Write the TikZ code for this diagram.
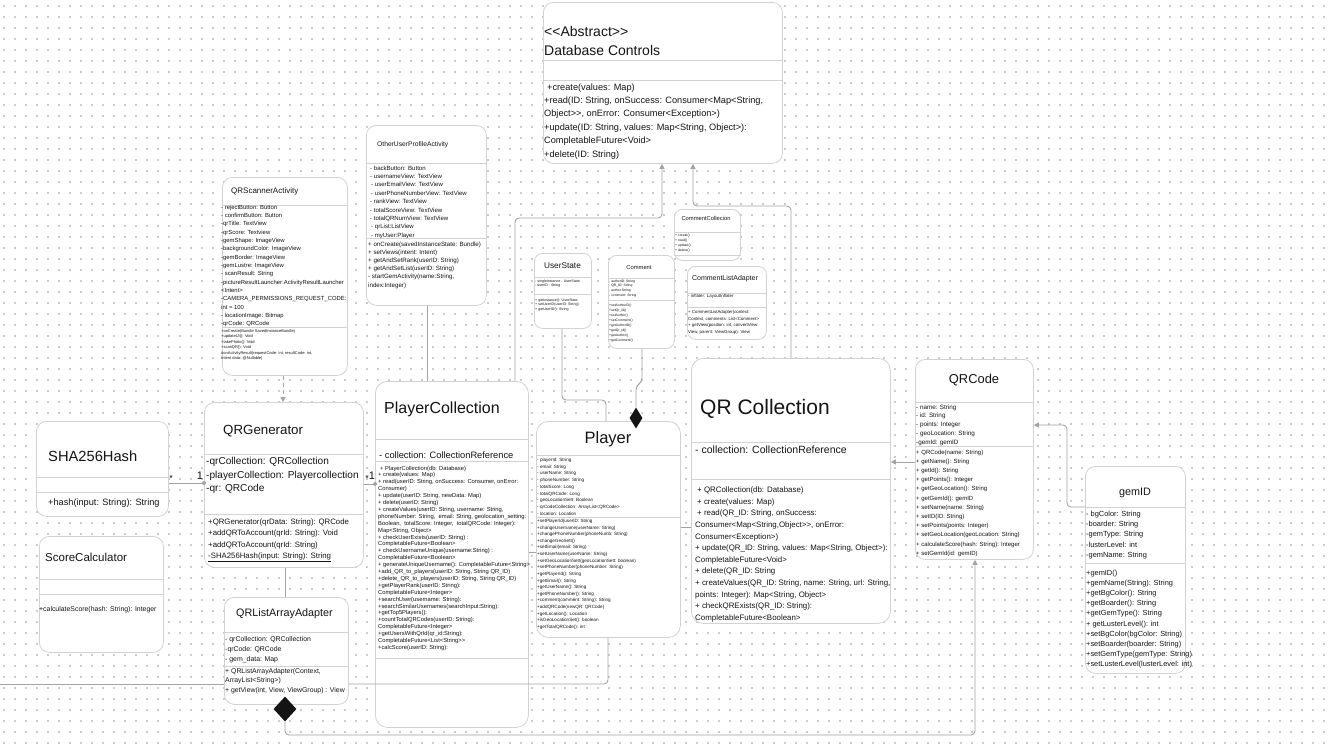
\documentclass[tikz,border=0pt]{standalone}
\usepackage{fontspec}
\setmainfont{Liberation Sans}[Ligatures=TeXOff]
\usetikzlibrary{arrows.meta,shapes.geometric}

\definecolor{boxline}{HTML}{D2D2D2}
\definecolor{connline}{HTML}{A3A3A3}
\definecolor{inkcol}{HTML}{141414}
\definecolor{gridcol}{HTML}{CCCCCC}

\newcommand{\umlfont}[2]{\fontsize{#1}{#2}\selectfont}
% regels met \\, basislijn op de eerste regel
\newcommand{\umlblock}[1]{\vtop{\let\\\cr\halign{##\hfil\cr#1\crcr}}}

\tikzset{
  classbox/.style={draw=boxline, fill=white, line width=0.8pt, rounded corners=#1, anchor=north west, inner sep=0pt},
  classbox/.default=10pt,
  sepline/.style={draw=boxline, line width=0.7pt},
  umltxt/.style={anchor=base west, inner sep=0pt, text=inkcol},
  umltitle/.style={anchor=base, inner sep=0pt, text=inkcol},
  conn/.style={draw=connline, line width=0.9pt, rounded corners=4pt},
  inherit/.style={conn, -{Triangle[width=5pt,length=5pt]}},
  compdia/.style={diamond, fill=inkcol, inner sep=0pt},
  multlbl/.style={inner sep=0pt, text=inkcol},
  griddot/.style={fill=gridcol},
}

\begin{document}
\begin{tikzpicture}[x=1pt,y=-1pt]
\useasboundingbox (0,0) rectangle (1332,744);
\fill[white] (0,0) rectangle (1332,744);

% Puntraster
\foreach \gy in {6,17,...,743}
  \foreach \gx in {4,15,...,1332}
    \fill[griddot] (\gx-0.65,\gy-0.65) rectangle (\gx+0.65,\gy+0.65);

% Database Controls
\node[classbox, minimum width=239pt, minimum height=161pt] (dbctrl) at (543,2) {};
\draw[sepline] (dbctrl.west |- 0,60) -- (dbctrl.east |- 0,60);
\draw[sepline] (dbctrl.west |- 0,80) -- (dbctrl.east |- 0,80);
\node[umltxt, font=\umlfont{14}{19}] (dbtitle) at (544,36.6) {\umlblock{<<Abstract>>\\Database Controls}};
\node[umltxt, font=\umlfont{9.2}{13.4}] (dbops) at (544,90) {\umlblock{\hspace{3pt}+create(values: Map)\\+read(ID: String, onSuccess: Consumer<Map<String,\\Object>>, onError: Consumer<Exception>)\\+update(ID: String, values: Map<String, Object>):\\CompletableFuture<Void>\\+delete(ID: String)}};

% OtherUserProfileActivity
\node[classbox, minimum width=120pt, minimum height=180pt] (otherprof) at (366,125) {};
\draw[sepline] (otherprof.west |- 0,163) -- (otherprof.east |- 0,163);
\draw[sepline] (otherprof.west |- 0,238) -- (otherprof.east |- 0,238);
\node[umltxt, font=\umlfont{6.7}{8}] (optitle) at (377,146.2) {OtherUserProfileActivity};
\node[umltxt, font=\umlfont{6.06}{8.4}] (opattr) at (370,170) {\umlblock{- backButton: Button\\- usernameView: TextView\\\hspace{1pt}- userEmailView: TextView\\\hspace{1pt}- userPhoneNumberView: TextView\\- rankView: TextView\\- totalScoreView: TextView\\- totalQRNumView: TextView\\\hspace{1pt}- qrList:ListView\\\hspace{1pt}- myUser:Player}};
\node[umltxt, font=\umlfont{6.2}{8.2}] (opops) at (368,246) {\umlblock{+ onCreate(savedInstanceState: Bundle)\\+ setViews(intent: Intent)\\+ getAndSetRank(userID: String)\\+ getAndSetList(userID: String)\\- startGemActivity(name:String,\\index:Integer)}};

% QRScannerActivity
\node[classbox, minimum width=125pt, minimum height=198pt] (qrscan) at (222,177) {};
\draw[sepline] (qrscan.west |- 0,205) -- (qrscan.east |- 0,205);
\draw[sepline] (qrscan.west |- 0,327) -- (qrscan.east |- 0,327);
\node[umltxt, font=\umlfont{8}{9}] (qstitle) at (231,193.6) {QRScannerActivity};
\node[umltxt, font=\umlfont{5.9}{8.33}] (qsattr) at (221,209.3) {\umlblock{- rejectButton: Button\\- confirmButton: Button\\-qrTitle: TextView\\-qrScore: Textview\\-gemShape: ImageView\\-backgroundColor: ImageView\\-gemBorder: ImageView\\-gemLustre: ImageView\\- scanResult: String\\-pictureResultLauncher:ActivityResultLauncher\\<Intent>\\-CAMERA\_PERMISSIONS\_REQUEST\_CODE:\\int = 100\\- locationImage: Bitmap\\-qrCode: QRCode}};
\node[umltxt, font=\umlfont{4}{5.4}] (qsops) at (221,332.5) {\umlblock{+onCreate(Bundle SavedInstanceBundle)\\+updateUI(): Void\\+takePhoto(): Void\\+scanQR(): Void\\\#onActivityResult(requestCode: int, resultCode: int,\\Intent data: @Nullable)}};

% UserState
\node[classbox=8pt, minimum width=57pt, minimum height=75pt] (userstate) at (534,253) {};
\draw[sepline] (userstate.west |- 0,277) -- (userstate.east |- 0,277);
\draw[sepline] (userstate.west |- 0,294) -- (userstate.east |- 0,294);
\node[umltitle, font=\umlfont{8.25}{9}] (ustitle) at (562.5,268.7) {UserState};
\node[umltxt, font=\umlfont{3.6}{4.8}] (usattr) at (535,282) {\umlblock{- singleInstance : UserState\\- userID : String}};
\node[umltxt, font=\umlfont{3.6}{4.6}] (usops) at (535,301) {\umlblock{+ getInstance(): UserState\\+ setUserID(userID: String)\\+ getUserID(): String}};

% Comment
\node[classbox=8pt, minimum width=66pt, minimum height=93pt] (comment) at (608,255) {};
\draw[sepline] (comment.west |- 0,278) -- (comment.east |- 0,278);
\draw[sepline] (comment.west |- 0,300) -- (comment.east |- 0,300);
\node[umltitle, font=\umlfont{5.8}{7}] (cmtitle) at (639,269) {Comment};
\node[umltxt, font=\umlfont{3.4}{4.7}] (cmattr) at (609,282.2) {\umlblock{- authorID: String\\- QR\_ID: String\\- author:String\\- comment: String}};
\node[umltxt, font=\umlfont{3.4}{5}] (cmops) at (609,306.2) {\umlblock{+setAuthorID()\\+setQr\_id()\\+setAuthor()\\+setComment()\\+getAuthorID()\\+getQr\_id()\\+getAuthor()\\+getComment()}};

% CommentCollecion
\node[classbox=8pt, minimum width=66pt, minimum height=51pt] (commcoll) at (674,209) {};
\draw[sepline] (commcoll.west |- 0,232) -- (commcoll.east |- 0,232);
\draw[sepline] (commcoll.west |- 0,255) -- (commcoll.east |- 0,255);
\node[umltitle, font=\umlfont{5.8}{7}] (cctitle) at (706,220) {CommentCollecion};
\node[umltxt, font=\umlfont{3.4}{5}] (ccops) at (675,236.2) {\umlblock{+ create()\\+ read()\\+ update()\\+ delete()}};

% CommentListAdapter
\node[classbox=8pt, minimum width=79pt, minimum height=73pt] (commlist) at (687,266) {};
\draw[sepline] (commlist.west |- 0,293) -- (commlist.east |- 0,293);
\draw[sepline] (commlist.west |- 0,307) -- (commlist.east |- 0,307);
\node[umltitle, font=\umlfont{7}{8}] (cltitle) at (725,280.3) {CommentListAdapter};
\node[umltxt, font=\umlfont{4.4}{6}] (clattr) at (688,297.5) {- inflater: LayoutInflater};
\node[umltxt, font=\umlfont{4.35}{6.7}] (clops) at (688,313.5) {\umlblock{+ CommentListAdapter(context:\\Context, comments: List<Comment>\\+ getView(position: int, convertView:\\View, parent: ViewGroup): View}};

% PlayerCollection
\node[classbox=12pt, minimum width=153pt, minimum height=346pt] (playercoll) at (375,381) {};
\draw[sepline] (playercoll.west |- 0,439) -- (playercoll.east |- 0,439);
\draw[sepline] (playercoll.west |- 0,461) -- (playercoll.east |- 0,461);
\draw[sepline] (playercoll.west |- 0,658) -- (playercoll.east |- 0,658);
\node[umltxt, font=\umlfont{16}{18}] (pctitle) at (384,413) {PlayerCollection};
\node[umltxt, font=\umlfont{9.3}{11}] (pcattr) at (379,458) {- collection: CollectionReference};
\node[umltxt, font=\umlfont{5.8}{6.9}] (pcops) at (378,470) {\umlblock{\hspace{2pt}+ PlayerCollection(db: Database)\\+ create(values: Map)\\+ read(userID: String, onSuccess: Consumer, onError:\\Consumer)\\+ update(userID: String, newData: Map)\\+ delete(userID: String)\\+ createValues(userID: String, username: String,\\phoneNumber: String,\ \ email: String, geolocation\_setting:\\Boolean,\ \ totalScore: Integer,\ \ totalQRCode: Integer):\\Map<String, Object>\\+ checkUserExists(userID: String) :\\CompletableFuture<Boolean>\\+ checkUsernameUnique(username:String) :\\CompletableFuture<Boolean>\\+ generateUniqueUsername(): CompletableFuture<String>\\+add\_QR\_to\_players(userID: String, String QR\_ID)\\+delete\_QR\_to\_players(userID: String, String QR\_ID)\\+getPlayerRank(userID: String):\\CompletableFuture<Integer>\\+searchUser(username: String):\\+searchSimilarUsernames(searchInput:String):\\+getTop5Players():\\+countTotalQRCodes(userID: String):\\CompletableFuture<Integer>\\+getUsersWithQrId(qr\_id:String):\\CompletableFuture<List<String>>\\+calcScore(userID: String):}};

% Player
\node[classbox=12pt, minimum width=144pt, minimum height=216pt] (player) at (536,421) {};
\draw[sepline] (player.west |- 0,455) -- (player.east |- 0,455);
\draw[sepline] (player.west |- 0,517) -- (player.east |- 0,517);
\node[umltitle, font=\umlfont{16.5}{18}] (pltitle) at (608,443.5) {Player};
\node[umltxt, font=\umlfont{4.6}{6.7}] (plattr) at (537,461.5) {\umlblock{- playerId: String\\- email: String\\- userName: String\\- phoneNumber: String\\- totalScore: Long\\- totalQRCode: Long\\- geoLocationSett: Boolean\\- qrCodeCollection: ArrayList<QRCode>\\- location: Location}};
\node[umltxt, font=\umlfont{4.6}{6.62}] (plops) at (537,522.5) {\umlblock{+setPlayerId(userID: String\\+changeUsername(userName: String)\\+changePhoneNumber(phoneNumb: String)\\+changeGeoSett()\\+setEmail(email: String)\\+setUserName(userName: String)\\+setGeoLocationSett(geoLocationSett: boolean)\\+setPhoneNumber(phoneNumber: String)\\+getPlayerId(): String\\+getEmail(): String\\+getUserName(): String\\+getPhoneNumber(): String\\+comment(comment: String): String\\+addQRCode(newQR: QRCode)\\+getLocation(): Location\\+isGeoLocationSet(): boolean\\+getTotalQRCode(): int}};

% QR Collection
\node[classbox=12pt, minimum width=199pt, minimum height=265pt] (qrcoll) at (691,358) {};
\draw[sepline] (qrcoll.west |- 0,442) -- (qrcoll.east |- 0,442);
\draw[sepline] (qrcoll.west |- 0,479) -- (qrcoll.east |- 0,479);
\node[umltxt, font=\umlfont{21}{24}] (qctitle) at (700,414) {QR Collection};
\node[umltxt, font=\umlfont{10.5}{12}] (qcattr) at (695,453.5) {- collection: CollectionReference};
\node[umltxt, font=\umlfont{7.9}{11.6}] (qcops) at (695,492.6) {\umlblock{\hspace{2pt}+ QRCollection(db: Database)\\\hspace{2pt}+ create(values: Map)\\\hspace{2pt}+ read(QR\_ID: String, onSuccess:\\Consumer<Map<String,Object>>, onError:\\Consumer<Exception>)\\+ update(QR\_ID: String, values: Map<String, Object>):\\CompletableFuture<Void>\\+ delete(QR\_ID: String\\+ createValues(QR\_ID: String, name: String, url: String,\\points: Integer): Map<String, Object>\\+ checkQRExists(QR\_ID: String):\\CompletableFuture<Boolean>}};

% QRCode
\node[classbox, minimum width=118pt, minimum height=200pt] (qrcode) at (915,359) {};
\draw[sepline] (qrcode.west |- 0,402) -- (qrcode.east |- 0,402);
\draw[sepline] (qrcode.west |- 0,446) -- (qrcode.east |- 0,446);
\node[umltitle, font=\umlfont{12.9}{14}] (qrtitle) at (974,383.5) {QRCode};
\node[umltxt, font=\umlfont{6.3}{8.75}] (qrattr) at (916,409) {\umlblock{- name: String\\- id: String\\- points: Integer\\- geoLocation: String\\-gemId: gemID}};
\node[umltxt, font=\umlfont{6}{9.2}] (qrops) at (916,454) {\umlblock{+ QRCode(name: String)\\+ getName(): String\\+ getId(): String\\+ getPoints(): Integer\\+ getGeoLocation(): String\\+ getGemId(): gemID\\+ setName(name: String)\\+ setID(ID: String)\\+ setPoints(points: Integer)\\+ setGeoLocation(geoLocation: String)\\+ calculateScore(hash: String): Integer\\+ setGemId(id: gemID)}};

% gemID
\node[classbox, minimum width=100pt, minimum height=207pt] (gemid) at (1085,466) {};
\draw[sepline] (gemid.west |- 0,507) -- (gemid.east |- 0,507);
\draw[sepline] (gemid.west |- 0,563) -- (gemid.east |- 0,563);
\node[umltitle, font=\umlfont{10.8}{12}] (gmtitle) at (1135,495) {gemID};
\node[umltxt, font=\umlfont{7.4}{10.2}] (gmattr) at (1086,516.5) {\umlblock{- bgColor: String\\-boarder: String\\-gemType: String\\-lusterLevel: int\\-gemName: String}};
\node[umltxt, font=\umlfont{7.4}{10.1}] (gmops) at (1086,575.5) {\umlblock{+gemID()\\+gemName(String): String\\+getBgColor(): String\\+getBoarder(): String\\+getGemType(): String\\+ getLusterLevel(): int\\+setBgColor(bgColor: String)\\+setBoarder(boarder: String)\\+setGemType(gemType: String)\\+setLusterLevel(lusterLevel: int)}};

% SHA256Hash
\node[classbox, minimum width=132pt, minimum height=95pt] (sha) at (36,421) {};
\draw[sepline] (sha.west |- 0,477) -- (sha.east |- 0,477);
\draw[sepline] (sha.west |- 0,492) -- (sha.east |- 0,492);
\node[umltxt, font=\umlfont{14.7}{16}] (shatitle) at (48,461) {SHA256Hash};
\node[umltxt, font=\umlfont{9.2}{11}] (shaops) at (48,505) {+hash(input: String): String};

% QRGenerator
\node[classbox, minimum width=159pt, minimum height=165pt] (qrgen) at (204,402) {};
\draw[sepline] (qrgen.west |- 0,454) -- (qrgen.east |- 0,454);
\draw[sepline] (qrgen.west |- 0,514) -- (qrgen.east |- 0,514);
\node[umltxt, font=\umlfont{13.3}{15}] (qgtitle) at (223,434.5) {QRGenerator};
\node[umltxt, font=\umlfont{10.1}{13.5}] (qgattr) at (206,464.5) {\umlblock{-qrCollection: QRCollection\\-playerCollection: Playercollection\\-qr: QRCode}};
\node[umltxt, font=\umlfont{7.8}{11.3}] (qgops) at (208,524.6) {\umlblock{+QRGenerator(qrData: String): QRCode\\+addQRToAccount(qrId: String): Void\\+addQRToAccount(qrId: String)\\\underline{-SHA256Hash(input: String): String}}};

% ScoreCalculator
\node[classbox, minimum width=124pt, minimum height=116pt] (score) at (39,536) {};
\draw[sepline] (score.west |- 0,579) -- (score.east |- 0,579);
\draw[sepline] (score.west |- 0,594) -- (score.east |- 0,594);
\node[umltxt, font=\umlfont{11.5}{13}] (sctitle) at (45,561) {ScoreCalculator};
\node[umltxt, font=\umlfont{6.9}{8}] (scops) at (39,611.3) {+calculateScore(hash: String): Integer};

% QRListArrayAdapter
\node[classbox, minimum width=124pt, minimum height=107pt] (qrlist) at (224,597) {};
\draw[sepline] (qrlist.west |- 0,632) -- (qrlist.east |- 0,632);
\draw[sepline] (qrlist.west |- 0,666) -- (qrlist.east |- 0,666);
\node[umltxt, font=\umlfont{10.8}{12}] (qltitle) at (236,616.5) {QRListArrayAdapter};
\node[umltxt, font=\umlfont{6.9}{10}] (qlattr) at (225,641.3) {\umlblock{- qrCollection: QRCollection\\-qrCode: QRCode\\- gem\_data: Map}};
\node[umltxt, font=\umlfont{6.9}{9.5}] (qlops) at (225,673.3) {\umlblock{+ QRListArrayAdapter(Context,\\ArrayList<String>)\\+ getView(int, View, ViewGroup) : View}};

% Ruiten
\node[compdia, minimum width=13pt, minimum height=21pt] (playerdia) at (636,418) {};
\node[compdia, minimum width=23pt, minimum height=25pt] (qrlistdia) at (285,709) {};
\coordinate (leftend) at (0,684);

% Verbindingen
\draw[inherit] (515,0 |- playercoll.north) -- (515,218) -- (662,218) -- (662,0 |- dbctrl.south);
\draw[inherit] (791,0 |- qrcoll.north) -- (791,206) -- (693,206) -- (693,0 |- dbctrl.south);
\draw[conn] (427,0 |- otherprof.south) -- (427,0 |- playercoll.north);
\draw[conn, dash pattern=on 4pt off 3pt, -{Triangle[width=5pt,length=5pt]}] (283,0 |- qrscan.south) -- (283,0 |- qrgen.north);
\draw[conn] (562,0 |- userstate.south) -- (562,400) -- (606,400) -- (606,0 |- player.north);
\draw[conn] (642,0 |- comment.south) -- (642,382) -- (636,386) -- (playerdia.north);
\draw[conn] (sha.east |- 0,483) -- (qrgen.west |- 0,483);
\fill[connline] (qrgen.west |- 0,483) circle (2pt);
\node[multlbl, font=\umlfont{9}{9}] (shamany) at (171,478) {*};
\node[multlbl, font=\umlfont{11}{11}] (shaone) at (200,476) {1};
\draw[conn] (qrgen.east |- 0,484) -- (playercoll.west |- 0,484);
\fill[connline] (playercoll.west |- 0,484) circle (2pt);
\node[multlbl, font=\umlfont{9}{9}] (genmany) at (367,478) {*};
\node[multlbl, font=\umlfont{11}{11}] (genone) at (372,476) {1};
\draw[conn] (285,0 |- qrgen.south) -- (285,0 |- qrlist.north);
\draw[conn] (leftend) -- (qrlist.west |- leftend);
\draw[conn] (qrlist.east |- leftend) -- (608,684) -- (608,0 |- player.south);
\draw[inherit] (qrlistdia.south) -- (285,735) -- (975,735) -- (975,0 |- qrcode.south);
\draw[inherit] (qrcode.west |- 0,462) -- (qrcoll.east |- 0,462);
\draw[inherit] (gemid.west |- 0,507) -- (1067,507) -- (1067,425) -- (qrcode.east |- 0,425);
\draw[conn] (player.east |- 0,527) -- (qrcoll.west |- 0,527);
\draw[conn] (playercoll.east |- 0,552) -- (player.west |- 0,552);
\end{tikzpicture}
\end{document}
